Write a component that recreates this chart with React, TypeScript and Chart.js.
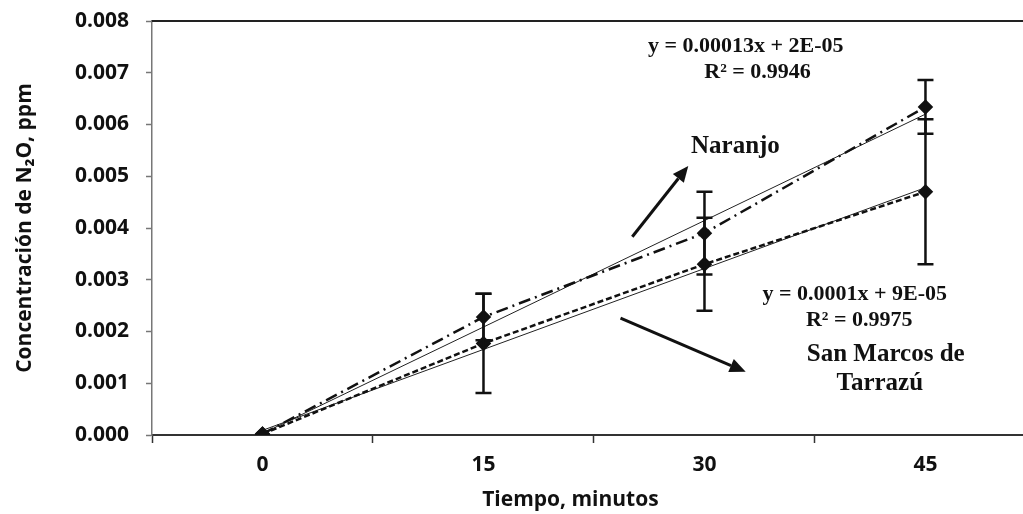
import React, { useEffect, useRef } from "react";
import { Chart, registerables } from "chart.js";

Chart.register(...registerables);

// ---- data ----
const minutes = [0, 15, 30, 45];
const naranjo = [0.00002, 0.00228, 0.0039, 0.00634];
const naranjoErr = [0, 0.00045, 0.0008, 0.00052];
const sanMarcos = [0.00002, 0.00177, 0.0033, 0.0047];
const sanMarcosErr = [0, 0.00096, 0.0009, 0.0014];
const trendX = [0, 45];
const naranjoTrend = [0.00003, 0.0062];
const sanMarcosTrend = [0.00009, 0.00478];
const xTickLabels = [0, 15, 30, 45];
const yTicks = [0, 0.001, 0.002, 0.003, 0.004, 0.005, 0.006, 0.007, 0.008];
const xTitle = "Tiempo, minutos";

// annotation texts (anchored at data coordinates)
const annotations = [
  { text: "y = 0.00013x + 2E-05", x: 32.8, y: 0.00752, size: 22 },
  { text: "R² = 0.9946", x: 33.6, y: 0.00701, size: 22 },
  { text: "Naranjo", x: 32.1, y: 0.00558, size: 25 },
  { text: "y = 0.0001x + 9E-05", x: 40.2, y: 0.00272, size: 22 },
  { text: "R² = 0.9975", x: 40.5, y: 0.00222, size: 22 },
  { text: "San Marcos de", x: 42.3, y: 0.00155, size: 25 },
  { text: "Tarrazú", x: 41.9, y: 0.001, size: 25 },
];
const arrows = [
  { x1: 25.1, y1: 0.00383, x2: 28.9, y2: 0.0052 },
  { x1: 24.3, y1: 0.00226, x2: 32.8, y2: 0.00122 },
];

const toXY = (xs: number[], ys: number[]) => xs.map((x, i) => ({ x, y: ys[i] }));

const AXIS_FONT = '"Open Sans", "Liberation Sans", sans-serif';

// stretch the plot area to the right edge of the canvas and pin its top
const layoutPlugin = {
  id: "fixLayout",
  afterLayout(chart: any) {
    const area = chart.chartArea;
    const xs = chart.scales.x;
    const ys = chart.scales.y;
    const top = 21;
    if (area.right !== chart.width) {
      area.right = chart.width;
      area.width = area.right - area.left;
      xs.right = chart.width;
      xs.width = xs.right - xs.left;
      xs.configure();
    }
    if (area.top !== top) {
      area.top = top;
      area.height = area.bottom - area.top;
      ys.top = top;
      ys.height = ys.bottom - ys.top;
      ys.configure();
    }
  },
};

const overlayPlugin = {
  id: "overlay",
  afterDatasetsDraw(chart: any) {
    const { ctx, chartArea, scales } = chart;
    const xs = scales.x;
    const ys = scales.y;
    ctx.save();
    // top frame line
    ctx.strokeStyle = "#222";
    ctx.lineWidth = 2;
    ctx.beginPath();
    ctx.moveTo(chartArea.left, chartArea.top);
    ctx.lineTo(chartArea.right, chartArea.top);
    ctx.stroke();

    // error bars
    const drawErr = (vals: number[], errs: number[]) => {
      ctx.strokeStyle = "#111";
      ctx.lineWidth = 2.5;
      vals.forEach((v, i) => {
        const e = errs[i];
        if (!e) return;
        const px = xs.getPixelForValue(minutes[i]);
        const top = ys.getPixelForValue(v + e);
        const bot = ys.getPixelForValue(v - e);
        ctx.beginPath();
        ctx.moveTo(px, top);
        ctx.lineTo(px, bot);
        ctx.moveTo(px - 8, top);
        ctx.lineTo(px + 8, top);
        ctx.moveTo(px - 8, bot);
        ctx.lineTo(px + 8, bot);
        ctx.stroke();
      });
    };
    drawErr(naranjo, naranjoErr);
    drawErr(sanMarcos, sanMarcosErr);

    // arrows
    arrows.forEach((a) => {
      const x1 = xs.getPixelForValue(a.x1);
      const y1 = ys.getPixelForValue(a.y1);
      const x2 = xs.getPixelForValue(a.x2);
      const y2 = ys.getPixelForValue(a.y2);
      const ang = Math.atan2(y2 - y1, x2 - x1);
      const hl = 16;
      const hw = 7;
      const bx = x2 - hl * Math.cos(ang);
      const by = y2 - hl * Math.sin(ang);
      ctx.strokeStyle = "#111";
      ctx.fillStyle = "#111";
      ctx.lineWidth = 3;
      ctx.beginPath();
      ctx.moveTo(x1, y1);
      ctx.lineTo(bx, by);
      ctx.stroke();
      ctx.beginPath();
      ctx.moveTo(x2, y2);
      ctx.lineTo(bx + hw * Math.sin(ang), by - hw * Math.cos(ang));
      ctx.lineTo(bx - hw * Math.sin(ang), by + hw * Math.cos(ang));
      ctx.closePath();
      ctx.fill();
    });

    // texts
    ctx.fillStyle = "#111";
    ctx.textAlign = "center";
    ctx.textBaseline = "middle";
    annotations.forEach((t) => {
      ctx.font = `bold ${t.size}px "Liberation Serif", "Times New Roman", serif`;
      ctx.fillText(t.text, xs.getPixelForValue(t.x), ys.getPixelForValue(t.y));
    });

    // x axis title (slightly left of the plot centre, as in the reference)
    ctx.font = `bold 21px ${AXIS_FONT}`;
    ctx.fillText(xTitle, xs.getPixelForValue(20.9), chart.height - 14);
    ctx.restore();
  },
};

export default function App() {
  const ref = useRef<HTMLCanvasElement | null>(null);
  useEffect(() => {
    if (!ref.current) return;
    const font = { family: AXIS_FONT, weight: "bold" as const, size: 21 };
    const chart = new Chart(ref.current, {
      type: "line",
      data: {
        datasets: [
          {
            label: "Naranjo",
            data: toXY(minutes, naranjo),
            borderColor: "#111",
            backgroundColor: "#111",
            borderWidth: 2.5,
            borderDash: [12, 5, 2, 5],
            pointStyle: "rectRot",
            pointRadius: 6,
            pointBackgroundColor: "#111",
            pointBorderColor: "#111",
          },
          {
            label: "San Marcos de Tarrazú",
            data: toXY(minutes, sanMarcos),
            borderColor: "#111",
            backgroundColor: "#111",
            borderWidth: 2.5,
            borderDash: [6, 3],
            pointStyle: "rectRot",
            pointRadius: 6,
            pointBackgroundColor: "#111",
            pointBorderColor: "#111",
          },
          {
            label: "Tendencia Naranjo",
            data: toXY(trendX, naranjoTrend),
            borderColor: "#222",
            borderWidth: 1,
            pointRadius: 0,
          },
          {
            label: "Tendencia San Marcos",
            data: toXY(trendX, sanMarcosTrend),
            borderColor: "#222",
            borderWidth: 1,
            pointRadius: 0,
          },
        ],
      },
      options: {
        animation: false,
        responsive: false,
        layout: { padding: { top: 21, right: 0, left: 0, bottom: 0 } },
        plugins: { legend: { display: false }, tooltip: { enabled: false } },
        scales: {
          x: {
            type: "linear",
            min: -7.5,
            max: 51.62,
            afterBuildTicks: (scale: any) => {
              const t: any[] = [];
              for (let v = -7.5; v <= 50; v += 7.5) t.push({ value: v });
              scale.ticks = t;
            },
            afterFit: (scale: any) => {
              scale.height = 79;
              scale.paddingLeft = 0;
              scale.paddingRight = 0;
            },
            ticks: {
              autoSkip: false,
              maxRotation: 0,
              padding: 9,
              color: "#111",
              font,
              callback: (v: any) => (xTickLabels.includes(Number(v)) ? String(v) : ""),
            },
            grid: {
              drawOnChartArea: false,
              tickLength: 8,
              tickWidth: 1.5,
              tickColor: (c: any) =>
                c.tick && xTickLabels.includes(c.tick.value) ? "rgba(0,0,0,0)" : "#333",
            },
            border: { color: "#333", width: 2 },
          },
          y: {
            type: "linear",
            min: 0,
            max: 0.008,
            afterBuildTicks: (scale: any) => {
              scale.ticks = yTicks.map((v) => ({ value: v }));
            },
            afterFit: (scale: any) => {
              scale.width = 152;
              scale.paddingTop = 0;
              scale.paddingBottom = 0;
            },
            ticks: {
              padding: 17,
              color: "#111",
              font,
              callback: (v: any) => Number(v).toFixed(3),
            },
            grid: { drawOnChartArea: false, tickLength: 6, tickColor: "#777", tickWidth: 1.5 },
            border: { color: "#777", width: 1.5 },
            title: {
              display: true,
              text: "Concentración de N₂O, ppm",
              color: "#111",
              font: { ...font, size: 21 },
              padding: { top: 12, bottom: 0 },
            },
          },
        },
      },
      plugins: [layoutPlugin, overlayPlugin],
    });
    return () => chart.destroy();
  }, []);
  return (
    <div style={{ position: "absolute", left: 0, top: 0, width: 1023, height: 514, background: "#fff" }}>
      <canvas ref={ref} width={1023} height={514} style={{ display: "block" }} />
    </div>
  );
}
